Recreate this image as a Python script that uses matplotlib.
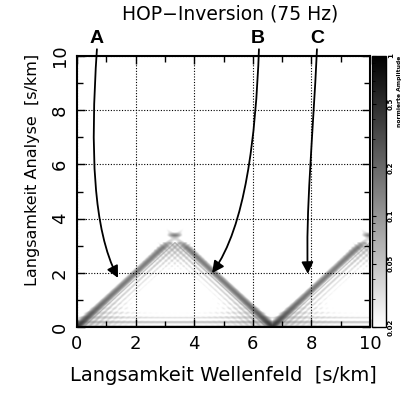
import numpy as np
import matplotlib
matplotlib.use("Agg")
import matplotlib.pyplot as plt
from matplotlib.colors import LogNorm
from matplotlib.patches import FancyArrowPatch
from matplotlib.path import Path

# ---- data ----
title = "HOP\u2212Inversion (75 Hz)"
xlabel = "Langsamkeit Wellenfeld  [s/km]"
ylabel = "Langsamkeit Analyse  [s/km]"
cbar_label = "normierte Amplitude"
axis_ticks = [0, 2, 4, 6, 8, 10]
cbar_ticks = [0.02, 0.05, 0.1, 0.2, 0.5, 1]
cbar_ticklabels = ["0.02", "0.05", "0.1", "0.2", "0.5", "1"]

# alias lines: analysis slowness = |wavefield slowness - centre|
line_centres = [0.0, 6.67, 13.33]
crossing_height = 3.33
line_peak = 0.16
line_peak_origin = 0.22
line_sigma = 0.1
beyond_peak = 0.04
beyond_end = 3.9
sidelobe_amp = 0.07
bottom_band_amp = 0.08

# annotations: label, label x, arrow start, control points, tip (data units)
labels = ["A", "B", "C"]
label_x = [0.68, 6.18, 8.19]
arrow_paths = [
    [(0.68, 10.25), (0.45, 6.5), (0.55, 3.6), (1.40, 1.81)],
    [(6.21, 10.25), (6.10, 7.0), (5.75, 3.7), (4.61, 1.99)],
    [(8.19, 10.25), (8.05, 7.0), (7.80, 4.2), (7.88, 1.96)],
]

# ---- field ----
nx, ny = 320, 320
xs = np.linspace(0, 10, nx)
ys = np.linspace(0, 10, ny)
X, Y = np.meshgrid(xs, ys)
Z = np.zeros_like(X)
y_fade = crossing_height - 0.4
for c in line_centres:
    r = np.abs(X - c)
    d = Y - r
    pk = np.where(Y < y_fade,
                  line_peak * (1 - 0.15 * Y / y_fade) + line_peak_origin * np.exp(-Y / 0.35),
                  0.0)
    fade = (Y >= y_fade) & (Y < crossing_height)
    pk = np.where(fade, line_peak * 0.85 * np.exp(-(Y - y_fade) / 0.2), pk)
    past = (Y >= crossing_height) & (Y < beyond_end)
    pk = np.where(past, beyond_peak * (beyond_end - Y) / (beyond_end - crossing_height), pk)
    Z += pk * np.exp(-0.5 * (d / line_sigma) ** 2)
    # sidelobes below the line
    sl = np.where((d < -0.2) & (Y < crossing_height - 0.2),
                  sidelobe_amp * np.exp(d / 0.7) * (0.65 + 0.35 * np.cos(2 * np.pi * d / 0.2)),
                  0.0)
    Z += sl
# crossing dash
for cx in [3.33, 10.0]:
    Z += 0.07 * np.exp(-0.5 * (((X - cx) / 0.16) ** 2 + ((Y - 3.38) / 0.05) ** 2))
# bottom band
Z += bottom_band_amp * np.exp(-Y / 0.35) * (0.6 + 0.4 * np.cos(2 * np.pi * Y / 0.17))
Z = np.clip(Z, 1e-4, 1)

# ---- figure ----
W, H = 402, 396
fig = plt.figure(figsize=(W / 100, H / 100), dpi=100)
ax = fig.add_axes([77 / W, 1 - 327 / H, (370 - 77) / W, (327 - 56) / H])
cax = fig.add_axes([372 / W, 1 - 327 / H, (386 - 372) / W, (327 - 56) / H])

norm = LogNorm(vmin=0.02, vmax=1)
im = ax.imshow(Z, extent=[0, 10, 0, 10], origin="lower", aspect="auto",
               cmap="gray_r", norm=norm, interpolation="bilinear")

ax.set_xlim(0, 10)
ax.set_ylim(0, 10)
ax.set_xticks(axis_ticks)
ax.set_yticks(axis_ticks)
ax.set_xticks(np.arange(1, 10, 2), minor=True)
ax.set_yticks(np.arange(1, 10, 2), minor=True)
ax.tick_params(which="both", direction="in", top=True, right=True, width=1.0)
ax.tick_params(which="major", length=6, labelsize=13, pad=6)
ax.tick_params(which="minor", length=4)
for lab in ax.get_yticklabels():
    lab.set_rotation(90)
    lab.set_va("center")
ax.grid(True, which="major", color="black", linestyle=(0, (1, 1.5)), linewidth=0.8)
for s in ax.spines.values():
    s.set_linewidth(1.5)

ax.set_xlabel(xlabel, fontsize=14, labelpad=9)
ax.set_ylabel(ylabel, fontsize=11.5)
ax.yaxis.set_label_coords(-0.125, 0.58)
fig.text(230 / W, 1 - 14 / H, title, fontsize=13.5, ha="center", va="center")

# colorbar
cb = fig.colorbar(im, cax=cax)
cb.set_ticks(cbar_ticks)
cb.set_ticklabels(cbar_ticklabels)
cax.tick_params(which="both", direction="in", left=True, right=False,
                labelleft=False, labelright=True, labelsize=5, pad=1.5)
cax.tick_params(which="major", length=3)
cax.tick_params(which="minor", length=2)
for lab in cax.get_yticklabels():
    lab.set_rotation(90)
    lab.set_va("center")
    lab.set_fontweight("bold")
cb.outline.set_linewidth(1.0)
fig.text(399.5 / W, 1 - 56 / H, cbar_label, fontsize=4.3, rotation=90,
         ha="center", va="top", fontweight="bold")

# annotations
for lab, lx, pts in zip(labels, label_x, arrow_paths):
    ax.text(lx, 10.35, lab, fontsize=14, fontweight="bold", ha="center",
            va="bottom", clip_on=False, family="Liberation Sans")
    path = Path(pts, [Path.MOVETO, Path.CURVE4, Path.CURVE4, Path.CURVE4])
    arr = FancyArrowPatch(path=path, arrowstyle="-|>,head_length=7,head_width=3.5",
                          color="black", linewidth=1.3, clip_on=False,
                          transform=ax.transData)
    ax.add_patch(arr)

fig.savefig("out.png", dpi=100)
